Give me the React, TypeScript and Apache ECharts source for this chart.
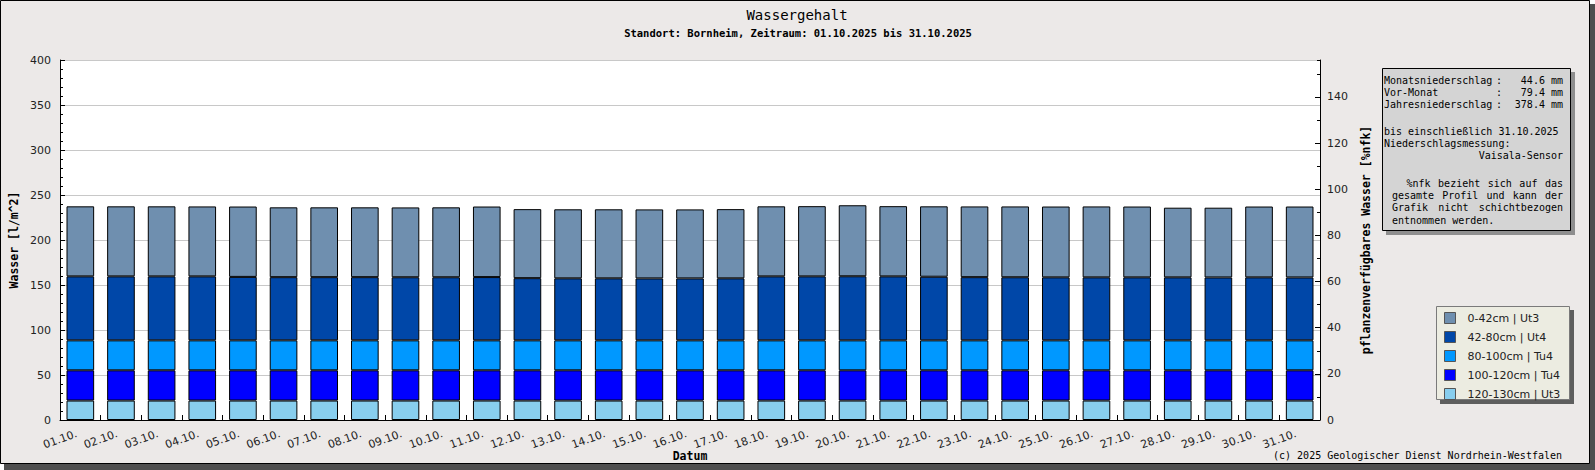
import React, { useEffect, useRef } from "react";
import * as echarts from "echarts";

const categories = [
  "01.10.", "02.10.", "03.10.", "04.10.", "05.10.", "06.10.", "07.10.", "08.10.",
  "09.10.", "10.10.", "11.10.", "12.10.", "13.10.", "14.10.", "15.10.", "16.10.",
  "17.10.", "18.10.", "19.10.", "20.10.", "21.10.", "22.10.", "23.10.", "24.10.",
  "25.10.", "26.10.", "27.10.", "28.10.", "29.10.", "30.10.", "31.10.",
];

const layer0to42 = [
  77.8, 77.8, 77.8, 77.7, 78.2, 77.6, 77.6, 77.6, 77.6, 77.7, 78.4, 76.7, 76.7, 76.7, 76.7, 76.7,
  76.9, 77.8, 78.0, 78.9, 78.0, 78.2, 78.6, 78.7, 78.7, 78.8, 78.7, 77.4, 77.5, 78.7, 78.8,
];
const layer42to80 = [
  71.1, 71.1, 71.1, 71.1, 70.5, 70.2, 70.2, 70.2, 70.1, 70.1, 70.3, 69.1, 68.9, 68.9, 68.8, 68.8,
  68.9, 71.1, 71.1, 71.2, 71.1, 70.7, 70.2, 70.1, 70.0, 70.0, 70.0, 70.0, 69.9, 70.0, 69.9,
];
const layer80to100 = [
  33.3, 33.3, 33.3, 33.3, 33.3, 33.3, 33.3, 33.3, 33.3, 33.3, 33.3, 33.3, 33.3, 33.3, 33.3, 33.3,
  33.3, 33.3, 33.3, 33.3, 33.3, 33.3, 33.3, 33.3, 33.3, 33.3, 33.3, 33.3, 33.3, 33.3, 33.3,
];
const layer100to120 = [
  33.6, 33.6, 33.6, 33.6, 33.6, 33.6, 33.6, 33.6, 33.6, 33.6, 33.6, 33.6, 33.6, 33.6, 33.6, 33.6,
  33.6, 33.6, 33.6, 33.6, 33.6, 33.6, 33.6, 33.6, 33.6, 33.6, 33.6, 33.6, 33.6, 33.6, 33.6,
];
const layer120to130 = [
  21.6, 21.6, 21.6, 21.6, 21.6, 21.6, 21.6, 21.6, 21.6, 21.6, 21.6, 21.6, 21.6, 21.6, 21.6, 21.6,
  21.6, 21.6, 21.6, 21.6, 21.6, 21.6, 21.6, 21.6, 21.6, 21.6, 21.6, 21.6, 21.6, 21.6, 21.6,
];

const seriesNames = ["0-42cm | Ut3", "42-80cm | Ut4", "80-100cm | Tu4", "100-120cm | Tu4", "120-130cm | Ut3"];
const seriesColors = ["#6F8FAF", "#0047A8", "#0098FF", "#0000FF", "#88CEEE"];
const seriesData = [layer0to42, layer42to80, layer80to100, layer100to120, layer120to130];

const leftTicks = { min: 0, max: 400, interval: 50 };
const rightTicks = { min: 0, max: 156, interval: 20 };

const titleText = "Wassergehalt";
const subtitleText = "Standort: Bornheim, Zeitraum: 01.10.2025 bis 31.10.2025";
const copyrightText = "(c) 2025 Geologischer Dienst Nordrhein-Westfalen";

const MONO = "'DejaVu Sans Mono', 'Liberation Mono', monospace";
const SANS = "'DejaVu Sans', sans-serif";
const CHAR_W = 6.02;

function txt(text: string, x: number, y: number, align: string, font: string, z = 12) {
  return {
    type: "text",
    z,
    style: {
      text,
      x,
      y,
      font,
      fill: "#000",
      align,
      verticalAlign: "middle",
      textAlign: align,
      textVerticalAlign: "middle",
    },
  };
}

// justified line: spread words between left and right edge
function justified(line: string, left: number, right: number, y: number, font: string) {
  const words = line.split(" ");
  const chars = words.reduce((s, w) => s + w.length, 0);
  const gap = words.length > 1 ? (right - left - chars * CHAR_W) / (words.length - 1) : 0;
  const els: any[] = [];
  let x = left;
  words.forEach((w) => {
    els.push(txt(w, x, y, "left", font));
    x += w.length * CHAR_W + gap;
  });
  return els;
}

export default function App() {
  const ref = useRef<HTMLDivElement>(null);

  useEffect(() => {
    document.body.style.margin = "0";
    if (!ref.current) return;
    const chart = echarts.init(ref.current, undefined, { renderer: "svg" });

    const infoFont = `10px ${MONO}`;
    const graphic: any[] = [
      // frame shadow + frame
      { type: "rect", z: -20, shape: { x: 4, y: 4, width: 1591, height: 466 }, style: { fill: "#4f4f4f" } },
      { type: "rect", z: -19, shape: { x: 0.5, y: 0.5, width: 1589, height: 463 }, style: { fill: "#ECE9E8", stroke: "#000", lineWidth: 1 } },
      // titles
      txt(titleText, 797, 15, "center", `14px ${MONO}`),
      txt(subtitleText, 798, 33, "center", `bold 10.5px ${MONO}`),
      // info box
      { type: "rect", z: 9, shape: { x: 1386, y: 72, width: 189, height: 163 }, style: { fill: "#8e8e8e" } },
      { type: "rect", z: 10, shape: { x: 1382.5, y: 68.5, width: 188, height: 162 }, style: { fill: "#D4D4D4", stroke: "#000", lineWidth: 1 } },
      txt("Monatsniederschlag", 1384, 80, "left", infoFont),
      txt(":", 1499, 80, "center", infoFont),
      txt("44.6 mm", 1563, 80, "right", infoFont),
      txt("Vor-Monat", 1384, 92, "left", infoFont),
      txt(":", 1499, 92, "center", infoFont),
      txt("79.4 mm", 1563, 92, "right", infoFont),
      txt("Jahresniederschlag", 1384, 104, "left", infoFont),
      txt(":", 1499, 104, "center", infoFont),
      txt("378.4 mm", 1563, 104, "right", infoFont),
      txt("bis einschließlich 31.10.2025", 1384, 131, "left", infoFont),
      txt("Niederschlagsmessung:", 1384, 143, "left", infoFont),
      txt("Vaisala-Sensor", 1563, 155, "right", infoFont),
      ...justified("%nfk bezieht sich auf das", 1406.5, 1563, 183, infoFont),
      ...justified("gesamte Profil und kann der", 1392, 1563, 195, infoFont),
      ...justified("Grafik nicht schichtbezogen", 1392, 1563, 207, infoFont),
      txt("entnommen werden.", 1392, 220, "left", infoFont),
      // legend box
      { type: "rect", z: 9, shape: { x: 1440, y: 310, width: 134, height: 94 }, style: { fill: "#5e5e5e" } },
      { type: "rect", z: 10, shape: { x: 1436.5, y: 306.5, width: 133, height: 93 }, style: { fill: "#ECECE1", stroke: "#7a7a7a", lineWidth: 1 } },
      // copyright
      txt(copyrightText, 1562, 455, "right", `10px ${MONO}`),
    ];

    const nameStyle = { fontFamily: MONO, fontWeight: "bold", fontSize: 11.5, color: "#000" };
    const labelStyle = { fontFamily: SANS, fontSize: 11, color: "#222" };

    const series = seriesNames
      .map((name, i) => ({
        name,
        type: "bar",
        stack: "wasser",
        yAxisIndex: 0,
        barWidth: "68%",
        data: seriesData[i],
        itemStyle: { color: seriesColors[i], borderColor: "#000", borderWidth: 1 },
        emphasis: { disabled: true },
      }))
      .reverse();

    chart.setOption({
      animation: false,
      backgroundColor: "transparent",
      graphic,
      legend: {
        data: seriesNames,
        orient: "vertical",
        left: 1444,
        top: 312,
        z: 20,
        padding: 0,
        itemWidth: 11,
        itemHeight: 11,
        itemGap: 7,
        icon: "rect",
        selectedMode: false,
        itemStyle: { borderColor: "#555", borderWidth: 1 },
        textStyle: { ...labelStyle, lineHeight: 11, padding: [0, 0, 0, 7] },
      },
      grid: {
        left: 60,
        top: 60,
        right: 275,
        bottom: 50,
        show: true,
        backgroundColor: "#fff",
        borderWidth: 0,
        containLabel: false,
        outerBoundsMode: "none",
      },
      xAxis: {
        type: "category",
        data: categories,
        boundaryGap: true,
        name: "Datum",
        nameLocation: "middle",
        nameGap: 30,
        nameMoveOverlap: false,
        nameTextStyle: nameStyle,
        axisLine: { show: true, lineStyle: { color: "#000", width: 1 } },
        axisTick: { show: true, inside: true, length: 5, alignWithLabel: false, lineStyle: { color: "#000" } },
        axisLabel: { ...labelStyle, rotate: 20, margin: 12, interval: 0, padding: [0, 4, 0, 0] },
        splitLine: { show: false },
      },
      yAxis: [
        {
          type: "value",
          position: "left",
          min: leftTicks.min,
          max: leftTicks.max,
          interval: leftTicks.interval,
          name: "Wasser [l/m^2]",
          nameLocation: "middle",
          nameRotate: 90,
          nameGap: 40,
          nameMoveOverlap: false,
          nameTextStyle: nameStyle,
          axisLine: { show: true, lineStyle: { color: "#000", width: 1 } },
          axisTick: { show: true, inside: true, length: 5, lineStyle: { color: "#000" } },
          minorTick: { show: true, splitNumber: 5, length: 3, lineStyle: { color: "#000" } },
          axisLabel: { ...labelStyle, margin: 9 },
          splitLine: { show: true, lineStyle: { color: "#C8C8C8", width: 1 } },
        },
        {
          type: "value",
          position: "right",
          min: rightTicks.min,
          max: rightTicks.max,
          interval: rightTicks.interval,
          name: "pflanzenverfügbares Wasser [%nfk]",
          nameLocation: "middle",
          nameRotate: 90,
          nameGap: 40,
          nameMoveOverlap: false,
          nameTextStyle: nameStyle,
          axisLine: { show: true, lineStyle: { color: "#000", width: 1 } },
          axisTick: { show: true, inside: true, length: 5, lineStyle: { color: "#000" } },
          axisLabel: {
            ...labelStyle,
            margin: 7,
            showMaxLabel: false,
            formatter: (v: number) => (v % 20 === 0 ? String(v) : ""),
          },
          splitLine: { show: false },
        },
        {
          type: "value",
          position: "right",
          min: rightTicks.min,
          max: rightTicks.max,
          interval: 10,
          axisLine: { show: false },
          axisTick: { show: true, inside: true, length: 3, lineStyle: { color: "#000" } },
          axisLabel: { show: false },
          splitLine: { show: false },
        },
      ],
      series,
    } as any);

    return () => chart.dispose();
  }, []);

  return <div ref={ref} style={{ width: 1595, height: 470 }} />;
}
